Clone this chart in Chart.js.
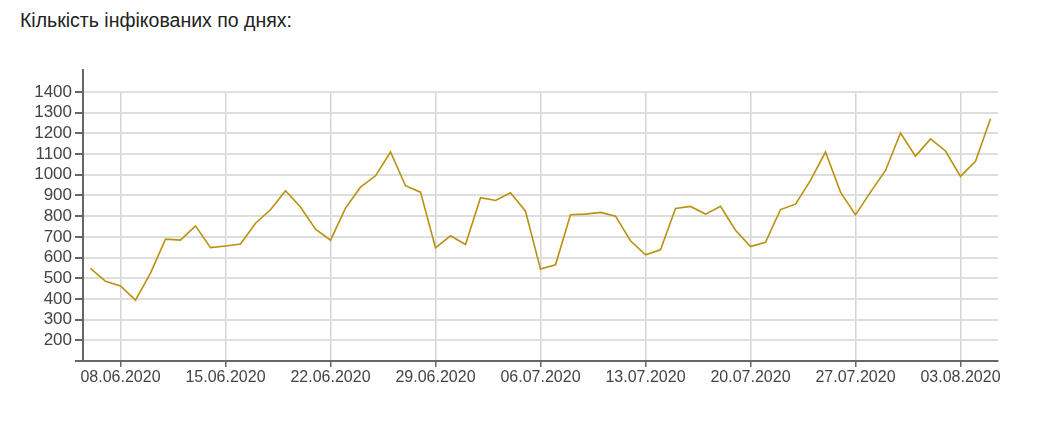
<!DOCTYPE html>
<html>
<head>
<meta charset="utf-8">
<script src="https://cdn.jsdelivr.net/npm/chart.js@4"></script>
<style>
  html, body { margin: 0; padding: 0; background: #fff; }
  body { width: 1037px; height: 421px; position: relative; overflow: hidden; font-family: Arial, 'Liberation Sans', sans-serif; }
  #title { position: absolute; left: 20px; top: 9px; font-size: 19.5px; color: #222; }
  #infectedChart { position: absolute; left: 0; top: 0; }
</style>
</head>
<body>
<div id="title">Кількість інфікованих по днях:</div>
<canvas id="infectedChart" width="1037" height="421"></canvas>
<script>
// days shown on the x axis
const days = [
    '06.06.2020', '07.06.2020', '08.06.2020', '09.06.2020', '10.06.2020', '11.06.2020', '12.06.2020',
    '13.06.2020', '14.06.2020', '15.06.2020', '16.06.2020', '17.06.2020', '18.06.2020', '19.06.2020',
    '20.06.2020', '21.06.2020', '22.06.2020', '23.06.2020', '24.06.2020', '25.06.2020', '26.06.2020',
    '27.06.2020', '28.06.2020', '29.06.2020', '30.06.2020', '01.07.2020', '02.07.2020', '03.07.2020',
    '04.07.2020', '05.07.2020', '06.07.2020', '07.07.2020', '08.07.2020', '09.07.2020', '10.07.2020',
    '11.07.2020', '12.07.2020', '13.07.2020', '14.07.2020', '15.07.2020', '16.07.2020', '17.07.2020',
    '18.07.2020', '19.07.2020', '20.07.2020', '21.07.2020', '22.07.2020', '23.07.2020', '24.07.2020',
    '25.07.2020', '26.07.2020', '27.07.2020', '28.07.2020', '29.07.2020', '30.07.2020', '31.07.2020',
    '01.08.2020', '02.08.2020', '03.08.2020', '04.08.2020', '05.08.2020'
];

// infected per day
const infected = [
    548, 485, 463, 394, 525, 689, 684, 753, 648, 656, 665,
    766, 831, 923, 844, 737, 684, 839, 940, 995, 1110,
    947, 916, 647, 705, 663, 889, 876, 913, 824, 544,
    565, 807, 810, 818, 800, 681, 613, 637, 837, 847,
    810, 848, 732, 653, 674, 832, 858, 973, 1110, 916,
    806, 916, 1021, 1202, 1090, 1173, 1115, 992, 1065, 1271
];

// labelled weeks on the x axis
const xTickLabels = [
    '08.06.2020', '15.06.2020', '22.06.2020', '29.06.2020', '06.07.2020',
    '13.07.2020', '20.07.2020', '27.07.2020', '03.08.2020'
];

const yMin = 100;
const yMax = 1400;
const yStep = 100;
const yFirstLabel = 200;

const isWeekTick = i => xTickLabels.includes(days[i]);

// y axis line sticks out a bit above the grid
const axisExtend = {
    id: 'axisExtend',
    afterDraw(chart) {
        const ctx = chart.ctx;
        const area = chart.chartArea;
        ctx.save();
        ctx.strokeStyle = '#666';
        ctx.lineWidth = 2;
        ctx.beginPath();
        ctx.moveTo(area.left, area.top - 23);
        ctx.lineTo(area.left, area.top + 1);
        ctx.stroke();
        ctx.restore();
    }
};

document.addEventListener('DOMContentLoaded', function() {
    const ctx = document.getElementById('infectedChart').getContext('2d');
    new Chart(ctx, {
        type: 'line',
        data: {
            labels: days,
            datasets: [{
                label: 'Інфіковані',
                data: infected,
                borderColor: '#b8920f',
                borderWidth: 1.6,
                pointRadius: 0,
                tension: 0,
                fill: false
            }]
        },
        options: {
            responsive: false,
            animation: false,
            layout: { padding: { top: 92, right: 39, left: 0, bottom: 0 } },
            plugins: {
                legend: { display: false },
                tooltip: { enabled: false }
            },
            scales: {
                x: {
                    type: 'category',
                    offset: true,
                    afterFit: s => { s.height = 60; },
                    border: { color: '#666', width: 2 },
                    grid: {
                        color: c => isWeekTick(c.index) ? '#d4d4d4' : 'rgba(0,0,0,0)',
                        tickColor: c => isWeekTick(c.index) ? '#666' : 'rgba(0,0,0,0)',
                        lineWidth: 1.5,
                        tickLength: 6
                    },
                    ticks: {
                        autoSkip: false,
                        maxRotation: 0,
                        padding: 1,
                        color: '#444',
                        font: { family: "Arial, 'Liberation Sans', sans-serif", size: 16 },
                        callback: (v, i) => isWeekTick(i) ? days[i] : ''
                    }
                },
                y: {
                    min: yMin,
                    max: yMax,
                    afterFit: s => { s.width = 83; },
                    border: { color: '#666', width: 2 },
                    grid: {
                        color: '#dedede',
                        tickColor: '#666',
                        lineWidth: 2,
                        tickLength: 8
                    },
                    ticks: {
                        stepSize: yStep,
                        autoSkip: false,
                        padding: 3,
                        color: '#444',
                        font: { family: "Arial, 'Liberation Sans', sans-serif", size: 17 },
                        callback: v => v >= yFirstLabel ? v : ''
                    }
                }
            }
        },
        plugins: [axisExtend]
    });
});
</script>
</body>
</html>
